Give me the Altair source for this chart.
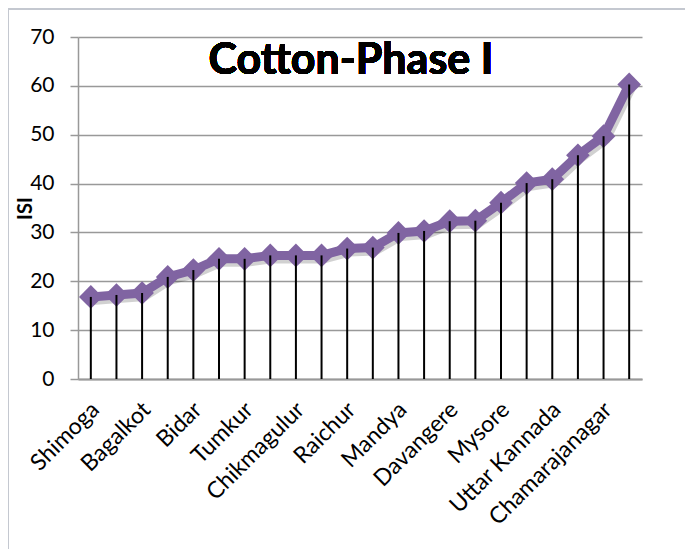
import altair as alt
import pandas as pd

districts = ["Shimoga", "Haveri", "Bagalkot", "Dharwad", "Bidar", "Gadag", "Tumkur",
             "Koppal", "Chikmagulur", "Bellary", "Raichur", "Gulbarga", "Mandya",
             "Bijapur", "Davangere", "Belgaum", "Mysore", "Chitradurga",
             "Uttar Kannada", "Hassan", "Chamarajanagar", "Kolar"]
isi = [16.8, 17.2, 17.6, 20.9, 22.3, 24.6, 24.6, 25.3, 25.3, 25.3, 26.7, 26.9,
       29.9, 30.3, 32.3, 32.4, 36.1, 40.1, 40.9, 45.8, 49.7, 60.3]
shown_labels = districts[::2]
y_ticks = [0, 10, 20, 30, 40, 50, 60, 70]
title_text = "Cotton-Phase I"

df = pd.DataFrame({"district": districts, "isi": isi})

FONT = "Lato"
PURPLE = "#8064A2"

x = alt.X("district:N", sort=districts,
          scale=alt.Scale(paddingInner=0, paddingOuter=0),
          axis=alt.Axis(title=None, values=shown_labels, labelAngle=-45,
                        labelAlign="right", labelBaseline="top",
                        labelFont=FONT, labelFontSize=23, labelColor="black",
                        labelPadding=19, labelOffset=-3, ticks=False, domainColor="#999999",
                        domainWidth=2, grid=False, labelOverlap=False))
y = alt.Y("isi:Q", scale=alt.Scale(domain=[0, 70], nice=False),
          axis=alt.Axis(title="ISI", values=y_ticks, titleFont=FONT,
                        titleFontSize=20, titleFontWeight="bold", titleColor="black",
                        titleAngle=270, titleX=-53, titleY=171,
                        titleAlign="center", titleBaseline="middle",
                        labelFont=FONT, labelFontSize=21, labelColor="black",
                        labelPadding=16, tickSize=8, tickColor="#999999",
                        tickWidth=1.5, domainColor="#999999", domainWidth=1.5,
                        gridColor="#999999", gridWidth=1.5, grid=True))

base = alt.Chart(df)

border = base.mark_rect(fill=None, stroke="#c4c8d0", strokeWidth=1.5).encode(
    x=alt.value(-70), x2=alt.value(620), y=alt.value(-28), y2=alt.value(560))

title = base.mark_text(font=FONT, fontSize=43, fontWeight="bold", color="black",
                       align="center", baseline="alphabetic").encode(
    x=alt.value(273), y=alt.value(37), text=alt.value(title_text))

shadow = base.mark_line(color="#000000", opacity=0.18, strokeWidth=10,
                        xOffset=2, yOffset=3).encode(x=x, y=y)
line = base.mark_line(color=PURPLE, strokeWidth=9).encode(x=x, y=y)
pts = base.mark_point(shape="diamond", filled=True, color=PURPLE, size=560,
                      opacity=1).encode(x=x, y=y)
rules = base.mark_rule(color="black", strokeWidth=2).encode(
    x=x, y=y, y2=alt.datum(0))

chart = alt.layer(border, title, shadow, line, pts, rules).properties(
    width=564, height=342,
    autosize=alt.AutoSizeParams(type="none"),
    padding={"left": 70, "top": 29, "right": 43, "bottom": 170},
).configure_view(stroke=None)

chart.save("out.html", embed_options={"renderer": "svg", "actions": False})
